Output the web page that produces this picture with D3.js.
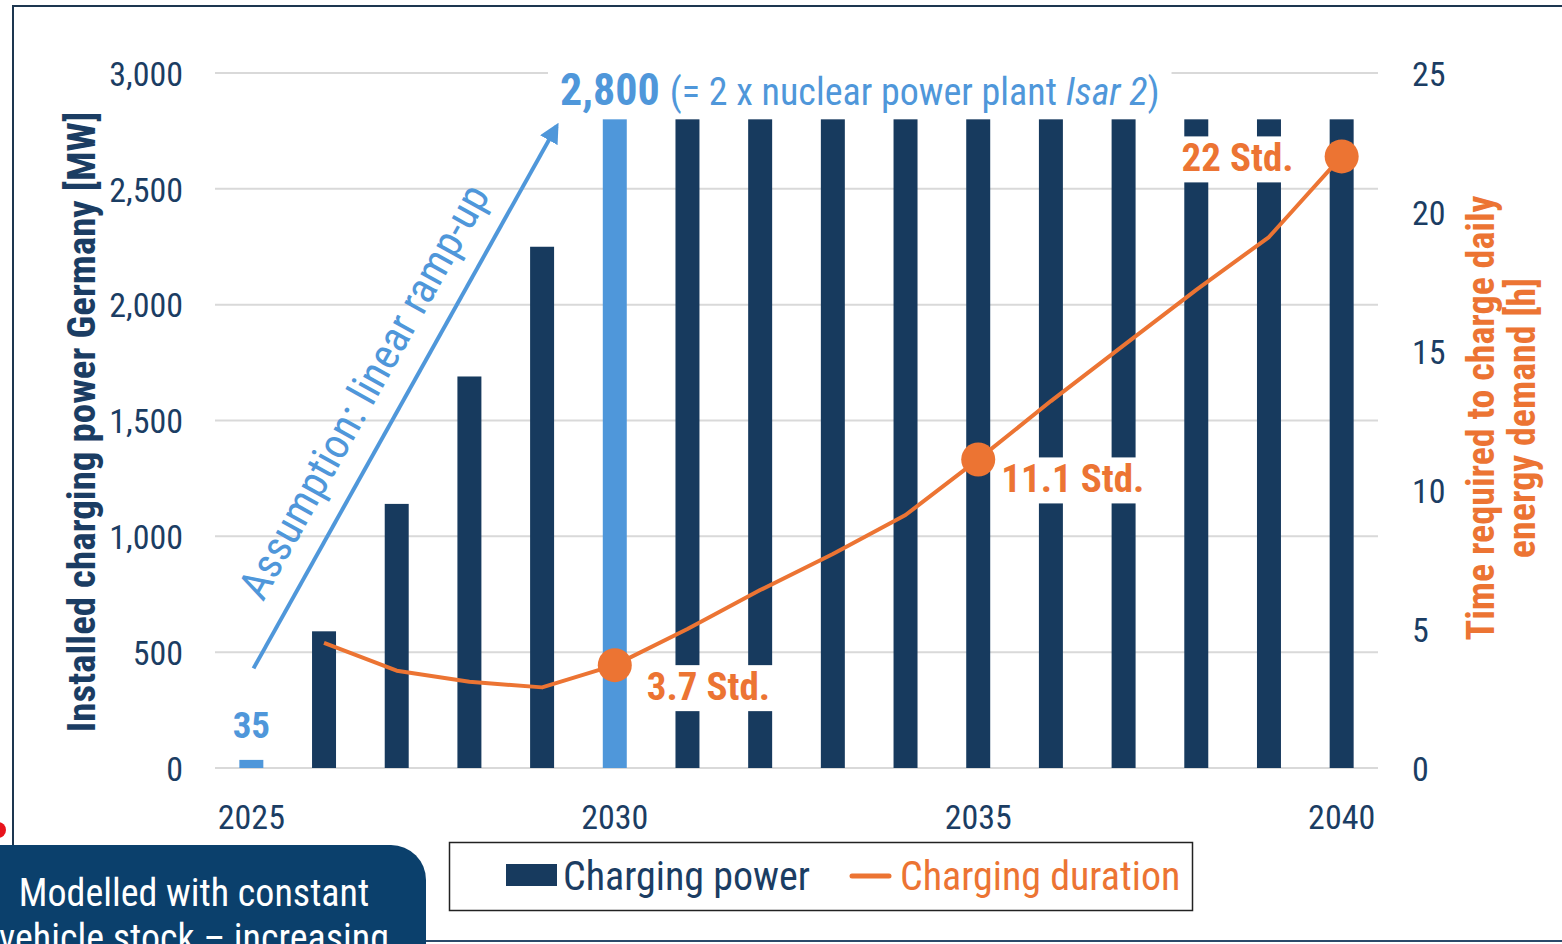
<!DOCTYPE html>
<html>
<head>
<meta charset="utf-8">
<script src="https://cdn.jsdelivr.net/npm/d3@7"></script>
<style>
  body { margin: 0; background: #fff; }
  svg { display: block; }
  text { font-family: "Roboto Condensed", "Liberation Sans Narrow", "DejaVu Sans Condensed", Roboto, sans-serif; }
</style>
</head>
<body>
<svg id="chart" width="1562" height="944"></svg>
<script>
// data
var years = [2025, 2026, 2027, 2028, 2029, 2030, 2031, 2032, 2033, 2034, 2035, 2036, 2037, 2038, 2039, 2040];
var power = [35, 590, 1140, 1690, 2250, 2800, 2800, 2800, 2800, 2800, 2800, 2800, 2800, 2800, 2800, 2800];
var duration = [null, 4.5, 3.5, 3.1, 2.9, 3.7, 5.0, 6.4, 7.7, 9.1, 11.1, 13.2, 15.2, 17.2, 19.1, 22.0];
var highlightYears = [2025, 2030];
var markerYears = [2030, 2035, 2040];
var markerLabels = ["3.7 Std.", "11.1 Std.", "22 Std."];
var leftTicks = [0, 500, 1000, 1500, 2000, 2500, 3000];
var rightTicks = [0, 5, 10, 15, 20, 25];
var xTicks = [2025, 2030, 2035, 2040];

var navy = "#173a5e", light = "#4f97da", orange = "#ec7433", textNavy = "#1b3d63";

var svg = d3.select("#chart");
var plotL = 215, plotR = 1378, plotT = 73, plotB = 768;

var x = d3.scaleBand().domain(years).range([plotL, plotR]).paddingInner(0.67).paddingOuter(0.335);
var y = d3.scaleLinear().domain([0, 3000]).range([plotB, plotT]);
var y2 = d3.scaleLinear().domain([0, 25]).range([plotB, plotT]);
var cx = function(yr) { return x(yr) + x.bandwidth() / 2; };

// frame
svg.append("path")
  .attr("d", "M13,845 V6 H1562")
  .attr("fill", "none").attr("stroke", "#1d3650").attr("stroke-width", 2);
svg.append("line").attr("x1", 420).attr("x2", 1562).attr("y1", 941).attr("y2", 941)
  .attr("stroke", "#2b4a6b").attr("stroke-width", 2);

// gridlines
svg.append("g").selectAll("line").data(leftTicks).enter().append("line")
  .attr("x1", plotL).attr("x2", plotR)
  .attr("y1", function(d) { return y(d); }).attr("y2", function(d) { return y(d); })
  .attr("stroke", "#d9d9d9").attr("stroke-width", 2);

// left axis
var ya = svg.append("g").attr("transform", "translate(183,0)")
  .call(d3.axisLeft(y).tickValues(leftTicks).tickSize(0).tickPadding(0).tickFormat(d3.format(",")));
ya.select(".domain").remove();
ya.selectAll("text").attr("font-size", 34).attr("fill", textNavy).attr("dy", "0.36em");

// right axis
var yb = svg.append("g").attr("transform", "translate(1412,0)")
  .call(d3.axisRight(y2).tickValues(rightTicks).tickSize(0).tickPadding(0));
yb.select(".domain").remove();
yb.selectAll("text").attr("font-size", 34).attr("fill", textNavy).attr("dy", "0.36em");

// x axis
var xa = svg.append("g").attr("transform", "translate(0,805)")
  .call(d3.axisBottom(x).tickValues(xTicks).tickSize(0).tickPadding(0));
xa.select(".domain").remove();
xa.selectAll("text").attr("font-size", 34).attr("fill", textNavy).attr("dy", "0.72em");

// axis titles
svg.append("text")
  .attr("transform", "translate(95,422) rotate(-90)")
  .attr("text-anchor", "middle").attr("font-size", 39).attr("font-weight", "bold").attr("fill", textNavy)
  .text("Installed charging power Germany [MW]");
var rt = svg.append("text")
  .attr("transform", "translate(1494,418) rotate(-90)")
  .attr("text-anchor", "middle").attr("font-size", 38).attr("font-weight", "bold").attr("fill", orange);
rt.append("tspan").attr("x", 0).attr("y", 0).text("Time required to charge daily");
rt.append("tspan").attr("x", 0).attr("y", 41).text("energy demand [h]");

// bars
svg.append("g").selectAll("rect").data(years).enter().append("rect")
  .attr("x", function(d) { return x(d); })
  .attr("width", x.bandwidth())
  .attr("y", function(d, i) { return y(power[i]); })
  .attr("height", function(d, i) { return plotB - y(power[i]); })
  .attr("fill", function(d) { return highlightYears.indexOf(d) >= 0 ? light : navy; });

// ramp-up arrow
var xl = d3.scaleLinear().domain([2025, 2040]).range([cx(2025), cx(2040)]);
var a0 = [xl(2025.03), y(430)], a1 = [xl(2029.2), y(2770)];
svg.append("defs").append("marker")
  .attr("id", "arr").attr("viewBox", "0 0 10 10").attr("refX", 8).attr("refY", 5)
  .attr("markerWidth", 5).attr("markerHeight", 5).attr("orient", "auto")
  .append("path").attr("d", "M0,0 L10,5 L0,10 z").attr("fill", light);
svg.append("line")
  .attr("x1", a0[0]).attr("y1", a0[1]).attr("x2", a1[0]).attr("y2", a1[1])
  .attr("stroke", light).attr("stroke-width", 4).attr("marker-end", "url(#arr)");
var ang = Math.atan2(a1[1] - a0[1], a1[0] - a0[0]) * 180 / Math.PI;
svg.append("text")
  .attr("transform", "translate(" + ((a0[0] + a1[0]) / 2) + "," + ((a0[1] + a1[1]) / 2) + ") rotate(" + ang + ")")
  .attr("x", -15).attr("y", -24)
  .attr("text-anchor", "middle").attr("font-size", 43).attr("fill", light)
  .text("Assumption: linear ramp-up");

// 2800 headline
var hl = svg.append("g");
var ht = hl.append("text").attr("x", 560).attr("y", 105).attr("fill", light);
ht.append("tspan").attr("font-size", 44).attr("font-weight", "bold").text("2,800 ");
ht.append("tspan").attr("font-size", 38).text("(= 2 x nuclear power plant ");
ht.append("tspan").attr("font-size", 38).attr("font-style", "italic").text("Isar 2");
ht.append("tspan").attr("font-size", 38).text(")");
var hb = ht.node().getBBox();
hl.insert("rect", "text").attr("x", hb.x - 12).attr("y", y(3000) - 3).attr("width", hb.width + 24).attr("height", 6).attr("fill", "#fff");

// 35 label
svg.append("text").attr("x", cx(2025)).attr("y", y(35) - 22)
  .attr("text-anchor", "middle").attr("font-size", 37).attr("font-weight", "bold").attr("fill", light)
  .text("35");

// duration line
var line = d3.line()
  .defined(function(d) { return d != null; })
  .x(function(d, i) { return cx(years[i]); })
  .y(function(d) { return y2(d); });

// marker labels with white backing
var offs = [[32, 35, "start"], [23, 33, "start"], [-48, 15, "end"]];
var lab = svg.append("g").selectAll("g").data(markerYears).enter().append("g");
lab.each(function(yr, k) {
  var g = d3.select(this);
  var px = cx(yr), py = y2(duration[years.indexOf(yr)]);
  var t = g.append("text").attr("x", px + offs[k][0]).attr("y", py + offs[k][1])
    .attr("text-anchor", offs[k][2]).attr("font-size", 39).attr("font-weight", "bold").attr("fill", orange)
    .text(markerLabels[k]);
  var b = t.node().getBBox();
  g.insert("rect", "text").attr("x", b.x - 4).attr("y", b.y + 1).attr("width", b.width + 8).attr("height", b.height).attr("fill", "#fff");
});

svg.append("path").datum(duration)
  .attr("d", line).attr("fill", "none").attr("stroke", orange).attr("stroke-width", 4).attr("stroke-linejoin", "round");

svg.append("g").selectAll("circle").data(markerYears).enter().append("circle")
  .attr("cx", function(d) { return cx(d); })
  .attr("cy", function(d) { return y2(duration[years.indexOf(d)]); })
  .attr("r", 17).attr("fill", orange);

// legend
var lg = svg.append("g");
lg.append("rect").attr("x", 449.5).attr("y", 842.5).attr("width", 743).attr("height", 68)
  .attr("fill", "#fff").attr("stroke", "#222").attr("stroke-width", 1.5);
lg.append("rect").attr("x", 506).attr("y", 864).attr("width", 51).attr("height", 22).attr("fill", navy);
lg.append("text").attr("x", 563).attr("y", 890).attr("font-size", 40).attr("fill", textNavy).text("Charging power");
lg.append("line").attr("x1", 852).attr("x2", 889).attr("y1", 876).attr("y2", 876)
  .attr("stroke", orange).attr("stroke-width", 5).attr("stroke-linecap", "round");
lg.append("text").attr("x", 900).attr("y", 890).attr("font-size", 40).attr("fill", orange).text("Charging duration");

// note box, bottom left
svg.append("path")
  .attr("d", "M-10,845 H391 A35,35 0 0 1 426,880 V960 H-10 Z")
  .attr("fill", "#0b406c");
var nt = svg.append("text").attr("text-anchor", "middle").attr("font-size", 38).attr("fill", "#fff");
nt.append("tspan").attr("x", 194).attr("y", 906).text("Modelled with constant");
nt.append("tspan").attr("x", 194).attr("y", 951).text("vehicle stock \u2013 increasing");

svg.append("circle").attr("cx", -2).attr("cy", 830).attr("r", 8).attr("fill", "#e8141c");
</script>
</body>
</html>
